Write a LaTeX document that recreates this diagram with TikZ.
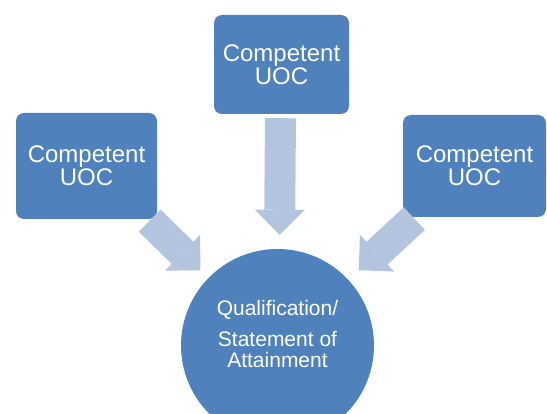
\documentclass[tikz,border=0pt]{standalone}
\usepackage{fontspec}
\setmainfont{Liberation Sans}
\usetikzlibrary{arrows.meta}
\definecolor{uocblue}{HTML}{4F81BD}
\definecolor{flowblue}{HTML}{B3C4DE}
\begin{document}
\begin{tikzpicture}[x=1pt, y=-1pt,
    uocbox/.style={fill=uocblue, rounded corners=8pt, text=white, align=center,
      inner sep=0pt, font=\fontsize{24}{23}\selectfont},
    blockarrow/.style={draw=flowblue, line width=31pt,
      -{Triangle[length=25pt, width=50pt, line width=0pt]}}]
\useasboundingbox (0,0) rectangle (547,414);
\clip (0,0) rectangle (547,414);

% Units of competency
\node[uocbox, minimum width=135pt, minimum height=99pt] (top) at (281.5,64.5) {Competent\\UOC};
\node[uocbox, minimum width=141pt, minimum height=106pt] (left) at (86.5,166) {Competent\\UOC};
\node[uocbox, minimum width=143pt, minimum height=102pt] (right) at (474.5,166) {Competent\\UOC};

% Qualification
\node[circle, fill=uocblue, minimum size=193pt, inner sep=0pt] (goal) at (277.5,345.5) {};
\node[text=white, align=center, font=\fontsize{21}{21}\selectfont] (goaltext) at (277.5,334)
  {Qualification/\\[10pt]Statement of\\Attainment};

% Arrows into the qualification
\draw[blockarrow, shorten <=4pt, shorten >=14pt] ([xshift=-1pt]top.south) -- ([xshift=2pt]goal.north);
\draw[blockarrow, shorten <=2pt, shorten >=11pt] ([xshift=-9pt]left.south east) -- (goal);
\draw[blockarrow, shorten <=2pt, shorten >=14pt] ([xshift=13pt]right.south west) -- (goal);
\end{tikzpicture}
\end{document}
